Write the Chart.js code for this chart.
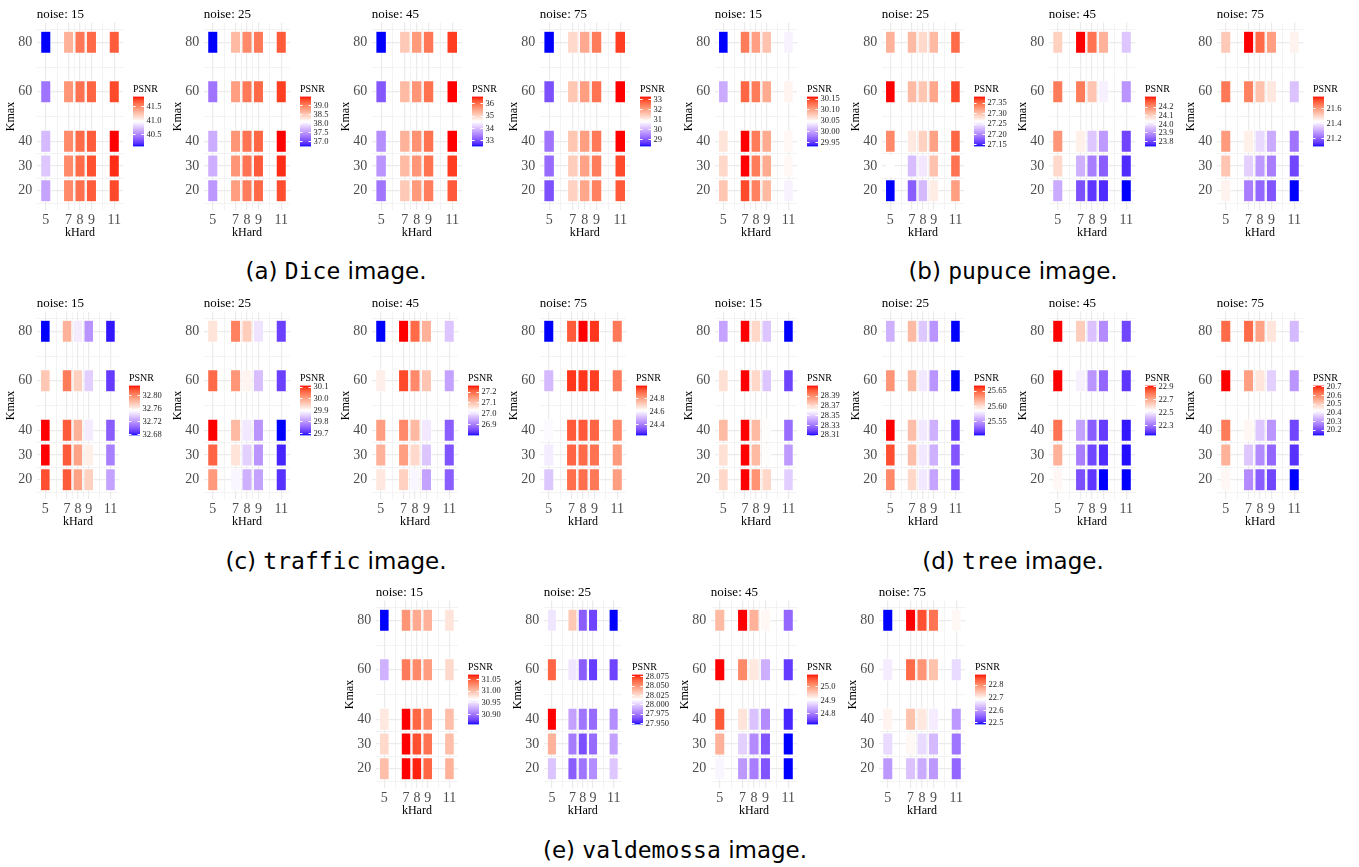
<!DOCTYPE html>
<html><head><meta charset="utf-8">
<script src="https://cdn.jsdelivr.net/npm/chart.js@4.4.1/dist/chart.umd.min.js"></script>
<style>
html,body{margin:0;padding:0;background:#fff;}
#root{position:relative;width:1359px;height:867px;overflow:hidden;background:#fff;}
#root canvas{position:absolute;}
.cap{position:absolute;font-family:'DejaVu Sans',sans-serif;font-size:23px;color:#000;white-space:nowrap;transform:translate(-50%,-50%);line-height:1;}
.cap .tt{font-family:'DejaVu Sans Mono',monospace;}
</style></head><body><div id="root"></div>
<script>
// ---------------- data ----------------
const kHard = [5, 7, 8, 9, 11];
const kMax = [20, 30, 40, 60, 80];
const noiseLevels = [15, 25, 45, 75];

// PSNR values: rows = Kmax 20,30,40,60,80 ; columns = kHard 5,7,8,9,11
const psnrDice15 = [[40.62,41.50,41.60,41.67,41.73],[40.76,41.50,41.62,41.71,41.80],[40.71,41.50,41.62,41.67,41.85],[40.44,41.45,41.59,41.64,41.73],[40.09,41.32,41.57,41.62,41.67]];
const psnrDice25 = [[37.50,38.82,39.04,39.16,39.30],[37.64,38.88,39.10,39.24,39.44],[37.62,38.88,39.10,39.18,39.52],[37.28,38.82,39.07,39.16,39.38],[36.72,38.62,38.96,39.07,39.24]];
const psnrDice45 = [[33.33,35.13,35.62,35.90,36.19],[33.61,35.29,35.66,35.99,36.40],[33.57,35.37,35.70,35.99,36.60],[33.08,35.29,35.66,35.99,36.60],[32.51,35.13,35.62,35.95,36.40]];
const psnrDice75 = [[28.93,31.43,31.98,32.43,32.83],[29.23,31.48,32.03,32.48,32.98],[29.33,31.58,32.08,32.53,33.33],[28.93,31.58,32.08,32.58,33.33],[28.33,31.33,31.93,32.48,33.08]];

const psnrPupuce15 = [[30.081,30.146,30.120,30.088,30.040],[30.070,30.162,30.123,30.097,30.051],[30.063,30.162,30.123,30.097,30.051],[30.005,30.134,30.123,30.097,30.053],[29.931,30.123,30.104,30.083,30.040]];
const psnrPupuce25 = [[27.142,27.178,27.226,27.274,27.322],[27.262,27.228,27.250,27.300,27.346],[27.334,27.276,27.291,27.320,27.353],[27.382,27.305,27.298,27.317,27.365],[27.310,27.305,27.286,27.305,27.351]];
const psnrPupuce45 = [[23.928,23.812,23.783,23.771,23.742],[24.091,23.934,23.870,23.829,23.771],[24.189,24.056,23.963,23.905,23.800],[24.224,24.224,24.120,24.015,23.899],[24.102,24.323,24.236,24.149,23.963]];
const psnrPupuce75 = [[21.451,21.244,21.210,21.184,21.097],[21.531,21.364,21.284,21.244,21.164],[21.604,21.457,21.377,21.310,21.230],[21.657,21.644,21.537,21.471,21.344],[21.524,21.764,21.677,21.597,21.451]];

const psnrTraffic15 = [[32.819,32.816,32.791,32.773,32.724],[32.831,32.816,32.791,32.761,32.712],[32.831,32.816,32.785,32.748,32.701],[32.777,32.805,32.773,32.739,32.690],[32.678,32.785,32.748,32.719,32.681]];
const psnrTraffic25 = [[30.011,29.890,29.825,29.812,29.708],[30.063,29.929,29.855,29.799,29.699],[30.115,29.976,29.877,29.799,29.682],[30.059,30.015,29.911,29.838,29.721],[29.929,30.037,29.955,29.873,29.721]];
const psnrTraffic45 = [[27.058,27.086,27.021,26.937,26.868],[27.123,27.146,27.076,26.974,26.858],[27.146,27.169,27.114,27.007,26.868],[27.049,27.230,27.169,27.100,26.937],[26.798,27.262,27.202,27.123,26.974]];
const psnrTraffic75 = [[24.524,24.899,24.899,24.883,24.813],[24.587,24.914,24.907,24.891,24.821],[24.610,24.930,24.930,24.914,24.852],[24.501,24.977,24.977,24.969,24.875],[24.228,24.930,25.008,24.977,24.883]];

const psnrTree15 = [[28.371,28.412,28.389,28.371,28.350],[28.369,28.412,28.379,28.361,28.338],[28.379,28.412,28.379,28.361,28.328],[28.369,28.412,28.371,28.348,28.319],[28.340,28.412,28.371,28.348,28.309]];
const psnrTree25 = [[25.636,25.603,25.578,25.553,25.523],[25.656,25.614,25.578,25.558,25.525],[25.669,25.614,25.578,25.558,25.516],[25.631,25.616,25.578,25.548,25.503],[25.558,25.616,25.566,25.548,25.503]];
const psnrTree45 = [[22.548,22.238,22.199,22.145,22.145],[22.688,22.316,22.223,22.184,22.153],[22.804,22.378,22.261,22.207,22.161],[22.920,22.509,22.354,22.277,22.199],[22.920,22.633,22.432,22.339,22.223]];
const psnrTree75 = [[20.439,20.283,20.225,20.197,20.139],[20.542,20.358,20.283,20.237,20.174],[20.617,20.439,20.358,20.295,20.197],[20.715,20.571,20.467,20.369,20.295],[20.640,20.640,20.565,20.467,20.341]];

const psnrValdemossa15 = [[31.000,31.071,31.067,31.045,31.007],[30.985,31.071,31.054,31.039,31.000],[30.977,31.071,31.045,31.028,31.000],[30.928,31.035,31.028,31.018,30.985],[30.857,31.022,31.011,31.007,30.979]];
const psnrValdemossa25 = [[27.997,27.967,27.974,27.981,27.998],[28.041,27.976,27.963,27.971,27.987],[28.081,27.987,27.974,27.971,27.981],[28.065,28.007,27.967,27.958,27.960],[28.007,28.033,27.967,27.960,27.947]];
const psnrValdemossa45 = [[24.899,24.825,24.803,24.770,24.722],[24.980,24.869,24.814,24.770,24.722],[25.053,24.932,24.858,24.814,24.737],[25.090,25.016,24.928,24.843,24.751],[24.972,25.090,24.980,24.913,24.785]];
const psnrValdemossa75 = [[22.598,22.634,22.614,22.598,22.554],[22.654,22.693,22.654,22.626,22.566],[22.697,22.749,22.709,22.670,22.598],[22.670,22.832,22.793,22.749,22.654],[22.487,22.884,22.852,22.824,22.693]];

// colour-bar tick labels
const ticksDice15 = ['40.5','41.0','41.5'];
const ticksDice25 = ['37.0','37.5','38.0','38.5','39.0'];
const ticksDice45 = ['33','34','35','36'];
const ticksDice75 = ['29','30','31','32','33'];
const ticksPupuce15 = ['29.95','30.00','30.05','30.10','30.15'];
const ticksPupuce25 = ['27.15','27.20','27.25','27.30','27.35'];
const ticksPupuce45 = ['23.8','23.9','24.0','24.1','24.2'];
const ticksPupuce75 = ['21.2','21.4','21.6'];
const ticksTraffic15 = ['32.68','32.72','32.76','32.80'];
const ticksTraffic25 = ['29.7','29.8','29.9','30.0','30.1'];
const ticksTraffic45 = ['26.9','27.0','27.1','27.2'];
const ticksTraffic75 = ['24.4','24.6','24.8'];
const ticksTree15 = ['28.31','28.33','28.35','28.37','28.39'];
const ticksTree25 = ['25.55','25.60','25.65'];
const ticksTree45 = ['22.3','22.5','22.7','22.9'];
const ticksTree75 = ['20.2','20.3','20.4','20.5','20.6','20.7'];
const ticksValdemossa15 = ['30.90','30.95','31.00','31.05'];
const ticksValdemossa25 = ['27.950','27.975','28.000','28.025','28.050','28.075'];
const ticksValdemossa45 = ['24.8','24.9','25.0'];
const ticksValdemossa75 = ['22.5','22.6','22.7','22.8'];

// ---------------- layout ----------------
const SERIF = "'Liberation Serif','DejaVu Serif',serif";
const PANEL_W = 167.4, ROW_H = 240;
const PLOT_LEFT = 36.7, PLOT_TOP = 22.6, PLOT_BOTTOM = 210.4;
const BAR_W = 11, LAB_GAP = 2.5, LEG_SPACING = 10, RIGHT_MARGIN = 5.7;
const LEG_TOP = 82, LEG_H = 73, LEG_PAD_B = 8.5;
const TILE_W = 0.9, TILE_H = 9;
const X_MINOR = [6, 7.5, 8.5, 10];
const Y_MINOR = [15, 25, 35, 50, 70, 85];

const groups = [
  { tag: '(a)', image: 'Dice', row: 0, xs: [0, 167, 335, 503], cx: 336,
    values: [psnrDice15, psnrDice25, psnrDice45, psnrDice75], ticks: [ticksDice15, ticksDice25, ticksDice45, ticksDice75] },
  { tag: '(b)', image: 'pupuce', row: 0, xs: [678, 845, 1012, 1180], cx: 1013,
    values: [psnrPupuce15, psnrPupuce25, psnrPupuce45, psnrPupuce75], ticks: [ticksPupuce15, ticksPupuce25, ticksPupuce45, ticksPupuce75] },
  { tag: '(c)', image: 'traffic', row: 1, xs: [0, 167, 335, 503], cx: 336,
    values: [psnrTraffic15, psnrTraffic25, psnrTraffic45, psnrTraffic75], ticks: [ticksTraffic15, ticksTraffic25, ticksTraffic45, ticksTraffic75] },
  { tag: '(d)', image: 'tree', row: 1, xs: [678, 845, 1012, 1180], cx: 1013,
    values: [psnrTree15, psnrTree25, psnrTree45, psnrTree75], ticks: [ticksTree15, ticksTree25, ticksTree45, ticksTree75] },
  { tag: '(e)', image: 'valdemossa', row: 2, xs: [339, 507, 674, 842], cx: 675,
    values: [psnrValdemossa15, psnrValdemossa25, psnrValdemossa45, psnrValdemossa75], ticks: [ticksValdemossa15, ticksValdemossa25, ticksValdemossa45, ticksValdemossa75] }
];
const rowTops = [0, 289, 578];
const captionY = [271, 560.5, 849.5];

// ---------------- colours (ggplot2 gradient2 in CIELAB) ----------------
function lin(c){ c/=255; return c<=0.04045? c/12.92 : Math.pow((c+0.055)/1.055,2.4); }
function delin(c){ c = c<=0.0031308? 12.92*c : 1.055*Math.pow(c,1/2.4)-0.055; return Math.round(Math.max(0,Math.min(1,c))*255); }
const WN = [0.95047, 1, 1.08883];
function toLab(rgb){
  const [r,g,b] = rgb.map(lin);
  const X = (0.4124*r+0.3576*g+0.1805*b)/WN[0], Y = (0.2126*r+0.7152*g+0.0722*b)/WN[1], Z = (0.0193*r+0.1192*g+0.9505*b)/WN[2];
  const f = t => t>0.008856 ? Math.cbrt(t) : 7.787*t+16/116;
  const fx=f(X), fy=f(Y), fz=f(Z);
  return [116*fy-16, 500*(fx-fy), 200*(fy-fz)];
}
function fromLab([L,a,b]){
  const fy=(L+16)/116, fx=fy+a/500, fz=fy-b/200;
  const inv = t => t*t*t>0.008856 ? t*t*t : (t-16/116)/7.787;
  const X=inv(fx)*WN[0], Y=inv(fy)*WN[1], Z=inv(fz)*WN[2];
  return [3.2406*X-1.5372*Y-0.4986*Z, -0.9689*X+1.8758*Y+0.0415*Z, 0.0557*X-0.2040*Y+1.0570*Z].map(delin);
}
const LAB_LOW = toLab([0,0,255]), LAB_MID = toLab([255,255,255]), LAB_HIGH = toLab([255,0,0]);
function psnrColor(v, lo, hi){
  let t = (v-lo)/(hi-lo); t = Math.max(0, Math.min(1, t));
  let A, B, u;
  if (t < 0.5){ A = LAB_LOW; B = LAB_MID; u = t/0.5; } else { A = LAB_MID; B = LAB_HIGH; u = (t-0.5)/0.5; }
  const c = fromLab(A.map((x,i)=> x+(B[i]-x)*u));
  return `rgb(${c[0]},${c[1]},${c[2]})`;
}
function barGradient(chart, lo, hi){
  const a = chart.chartArea; if (!a) return 'rgba(0,0,0,0)';
  const g = chart.ctx.createLinearGradient(0, a.bottom, 0, a.top);
  for (let k=0;k<=24;k++){ const t=k/24; g.addColorStop(t, psnrColor(lo+t*(hi-lo), lo, hi)); }
  return g;
}

// axis limits (tile extents + 5% expansion, as ggplot)
const xLo = Math.min(...kHard) - TILE_W/2, xHi = Math.max(...kHard) + TILE_W/2;
const yLo = Math.min(...kMax) - TILE_H/2, yHi = Math.max(...kMax) + TILE_H/2;
const X_MIN = xLo - 0.05*(xHi-xLo), X_MAX = xHi + 0.05*(xHi-xLo);
const Y_MIN = yLo - 0.05*(yHi-yLo), Y_MAX = yHi + 0.05*(yHi-yLo);
const X_GRID = [...kHard, ...X_MINOR].sort((a,b)=>a-b);
const Y_GRID = [...kMax, ...Y_MINOR].sort((a,b)=>a-b);

const root = document.getElementById('root');
const mctx = document.createElement('canvas').getContext('2d');

function addCanvas(x, y, w, h){
  const c = document.createElement('canvas');
  c.width = w; c.height = h;
  c.style.left = x+'px'; c.style.top = y+'px'; c.style.width = w+'px'; c.style.height = h+'px';
  root.appendChild(c);
  return c;
}

function makePanel(ox, oy, noise, values, tickLabels){
  const flat = values.flat();
  const lo = Math.min(...flat), hi = Math.max(...flat);
  mctx.font = `8.5px ${SERIF}`;
  const labW = Math.max(...tickLabels.map(s => mctx.measureText(s).width));
  mctx.font = `10px ${SERIF}`;
  const titW = mctx.measureText('PSNR').width;
  const legW = Math.max(titW, BAR_W + LAB_GAP + labW);
  const plotRight = PANEL_W - RIGHT_MARGIN - legW - LEG_SPACING;

  // ---- heat map ----
  const cw = Math.ceil(plotRight) + 1;
  const c = addCanvas(ox, oy, cw, ROW_H);
  const data = [], colors = [];
  kMax.forEach((km, i) => kHard.forEach((kh, j) => {
    data.push({ x: kh, y: [km - TILE_H/2, km + TILE_H/2] });
    colors.push(psnrColor(values[i][j], lo, hi));
  }));
  new Chart(c, {
    type: 'bar',
    data: { datasets: [{ data, backgroundColor: colors, borderColor: '#ffffff', borderWidth: 0.6, borderSkipped: false,
      barPercentage: TILE_W / 0.5, categoryPercentage: 1, grouped: false }] },
    options: {
      responsive: false, animation: false, devicePixelRatio: 1,
      layout: { padding: { left: 0, top: 0, bottom: 0, right: cw - plotRight } },
      events: [],
      plugins: {
        legend: { display: false }, tooltip: { enabled: false },
        title: { display: true, text: 'noise: ' + noise, align: 'start', fullSize: false, color: '#000',
          font: { family: SERIF, size: 13, weight: 'normal', lineHeight: 1.2 }, padding: { top: 7.0, bottom: 0 } }
      },
      scales: {
        x: { type: 'linear', min: X_MIN, max: X_MAX, offset: false, bounds: 'data',
          afterBuildTicks: s => { s.ticks = X_GRID.map(v => ({ value: v })); },
          afterFit: s => { s.height = ROW_H - PLOT_BOTTOM; },
          ticks: { autoSkip: false, maxRotation: 0, minRotation: 0, padding: 2, color: '#4d4d4d',
            font: { family: SERIF, size: 14 }, callback: v => kHard.includes(v) ? String(v) : '' },
          grid: { offset: false, drawTicks: false, color: '#ebebeb', lineWidth: ctx => (ctx.tick && kHard.includes(ctx.tick.value)) ? 1.2 : 0.6 },
          border: { display: false },
          title: { display: true, text: 'kHard', color: '#000', font: { family: SERIF, size: 12 }, padding: { top: 0, bottom: 0.3 } } },
        y: { type: 'linear', min: Y_MIN, max: Y_MAX, beginAtZero: false, bounds: 'data',
          afterBuildTicks: s => { s.ticks = Y_GRID.map(v => ({ value: v })); },
          afterFit: s => { s.width = PLOT_LEFT; },
          ticks: { autoSkip: false, padding: 4.5, color: '#4d4d4d', font: { family: SERIF, size: 14 },
            callback: v => kMax.includes(v) ? String(v) : '' },
          grid: { drawTicks: false, color: '#ebebeb', lineWidth: ctx => (ctx.tick && kMax.includes(ctx.tick.value)) ? 1.2 : 0.6 },
          border: { display: false },
          title: { display: true, text: 'Kmax', color: '#000', font: { family: SERIF, size: 12 }, padding: { top: 4.1, bottom: 0 } } }
      }
    }
  });

  // ---- colour bar legend ----
  const lw = Math.ceil(BAR_W + LAB_GAP + labW + 3);
  const lc = addCanvas(Math.round(ox + plotRight + LEG_SPACING), oy + LEG_TOP, lw, LEG_H);
  new Chart(lc, {
    type: 'bar',
    data: { labels: ['PSNR'], datasets: [{ data: [[lo, hi]], backgroundColor: ctx => barGradient(ctx.chart, lo, hi),
      borderWidth: 0, barPercentage: 1, categoryPercentage: 1 }] },
    options: {
      responsive: false, animation: false, devicePixelRatio: 1, events: [],
      layout: { padding: { left: 0, top: 0, right: 0, bottom: LEG_PAD_B } },
      plugins: {
        legend: { display: false }, tooltip: { enabled: false },
        title: { display: true, text: 'PSNR', align: 'start', color: '#000', font: { family: SERIF, size: 10, weight: 'normal', lineHeight: 1.2 },
          padding: { top: 1.7, bottom: 0.8 } }
      },
      scales: {
        x: { display: false },
        y: { position: 'right', min: lo, max: hi, beginAtZero: false, bounds: 'data',
          afterBuildTicks: s => { s.ticks = tickLabels.map(t => ({ value: parseFloat(t) })); },
          afterFit: s => { s.width = lw - BAR_W; },
          ticks: { autoSkip: false, padding: LAB_GAP, color: '#1a1a1a', font: { family: SERIF, size: 8.5 },
            callback: (v, i) => tickLabels[i] },
          grid: { drawTicks: false, drawOnChartArea: true, color: '#ffffff', lineWidth: 1, z: 1 },
          border: { display: false, dash: [2.5, 6] } }
      }
    }
  });
}

groups.forEach(g => {
  const oy = rowTops[g.row];
  noiseLevels.forEach((n, k) => makePanel(g.xs[k], oy, n, g.values[k], g.ticks[k]));
  const cap = document.createElement('div');
  cap.className = 'cap';
  cap.style.left = g.cx + 'px'; cap.style.top = captionY[g.row] + 'px';
  cap.innerHTML = g.tag + ' <span class="tt">' + g.image + '</span> image.';
  root.appendChild(cap);
});
</script>
</body></html>
